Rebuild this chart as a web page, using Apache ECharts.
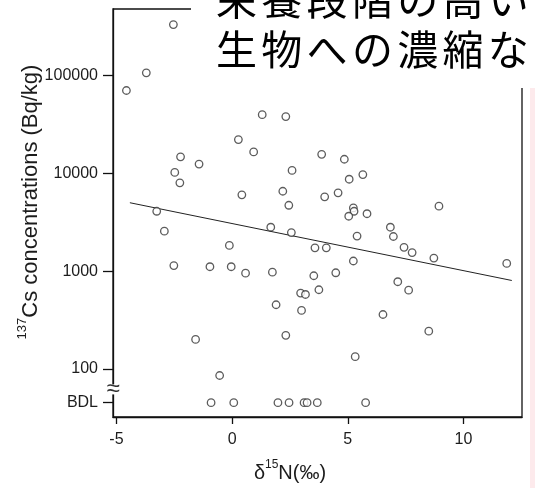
<!DOCTYPE html>
<html>
<head>
<meta charset="utf-8">
<script src="https://cdn.jsdelivr.net/npm/echarts@6/dist/echarts.min.js"></script>
<style>
  html, body { margin: 0; padding: 0; background: #fff; }
  #chart { width: 535px; height: 488px; }
</style>
</head>
<body>
<div id="chart"></div>
<script>
// δ15N (‰) of each sample with a detectable 137Cs concentration
const D15N = [
  -2.54, -3.71, -4.57, 0.27, -2.23, -1.43, -2.48, -2.26, 0.42, 0.93,
  -3.26, -2.93, 1.30, 2.32, 3.87, 4.85, 2.59, 5.65, 5.06, 2.19,
  4.00, 4.58, 2.45, 5.24, 5.27, 5.04, 5.83, 6.84, 6.97, 7.43,
  7.78, 8.94, 8.72, 11.87, 7.16, 7.63, 6.52, 8.50, 5.40, 1.67,
  2.56, 3.58, 4.07, 5.24, 1.74, 3.53, 4.48, 3.75, 2.96, 3.17,
  1.90, 3.00, 2.32, 5.32, -0.12, -2.52, -0.96, -0.04, 0.58, -1.58,
  -0.54
];
// 137Cs concentration (Bq/kg) for the same samples
const CS137 = [
  330000, 106000, 70000, 22100, 14700, 12400, 10200, 7980, 6020, 16500,
  4090, 2560, 39700, 37900, 15600, 13900, 10700, 9700, 8690, 6550,
  5740, 6310, 4710, 4430, 4090, 3640, 3860, 2810, 2260, 1750,
  1550, 4610, 1360, 1200, 780, 640, 361, 244, 2280, 2810,
  2480, 1730, 1730, 1270, 977, 898, 963, 646, 597, 578,
  454, 397, 221, 134, 1830, 1140, 1110, 1110, 954, 201,
  86
];
// δ15N of samples below the detection limit
const BDL_D15N = [-0.91, 0.07, 1.98, 2.46, 3.11, 3.24, 3.68, 5.77];

// regression line end points (δ15N, Bq/kg)
const TREND_D15N = [-4.42, 12.09];
const TREND_CS137 = [5000, 803];

// axis ticks
const X_TICKS = [-5, 0, 5, 10];
const BDL_LEVEL = 45.4;          // where the BDL row sits on the y axis
const BREAK_LEVEL = 62;          // where the axis-break mark sits
const Y_TICKS = [BDL_LEVEL, 100, 1000, 10000, 100000];
const Y_TICK_LABELS = ['BDL', '100', '1000', '10000', '100000'];

const TITLE_LINES = ['栄養段階の高い', '生物への濃縮な'];

const FONT = '"Liberation Sans", Arial, Helvetica, sans-serif';
const CJK_FONT = '"Noto Sans CJK JP", sans-serif';
const INK = '#1c1c1c';
const X_MIN = -5.15, X_MAX = 12.53;

const chart = echarts.init(document.getElementById('chart'), null, { renderer: 'canvas' });

function yLabel(v) {
  let best = 0, bestD = Infinity;
  Y_TICKS.forEach((t, i) => {
    const d = Math.abs(Math.log10(v) - Math.log10(t));
    if (d < bestD) { bestD = d; best = i; }
  });
  return Y_TICK_LABELS[best];
}

function nameRich(size) {
  return {
    a: { fontFamily: FONT, fontSize: size, color: INK, lineHeight: size + 4, verticalAlign: 'bottom' },
    s: { fontFamily: FONT, fontSize: Math.round(size * 0.6), color: INK, lineHeight: size + 4, verticalAlign: 'top' }
  };
}

const option = {
  animation: false,
  backgroundColor: '#fff',
  grid: {
    left: 113, right: 13, top: 9, bottom: 70,
    show: true, borderColor: '#111', borderWidth: 1.3, backgroundColor: 'transparent'
  },
  xAxis: {
    type: 'value',
    min: X_MIN, max: X_MAX,
    axisLine: { show: true, onZero: false, lineStyle: { color: '#111', width: 1.3 } },
    axisTick: { show: true, length: 7, customValues: X_TICKS, lineStyle: { color: '#111', width: 1.3 } },
    axisLabel: { customValues: X_TICKS, margin: 15, color: INK, fontFamily: FONT, fontSize: 16 },
    splitLine: { show: false },
    name: '{a|δ}{s|15}{a|N(‰)}',
    nameLocation: 'middle',
    nameGap: 42,
    nameMoveOverlap: false,
    nameTextStyle: { padding: [0, 55, 0, 0], rich: nameRich(20) }
  },
  yAxis: {
    type: 'log',
    logBase: 10,
    min: 32.4, max: 476000,
    axisLine: { show: true, onZero: false, lineStyle: { color: '#111', width: 1.3 } },
    axisTick: { show: true, length: 10, customValues: Y_TICKS, lineStyle: { color: '#111', width: 1.3 } },
    axisLabel: { customValues: Y_TICKS, margin: 15, color: INK, fontFamily: FONT, fontSize: 16, formatter: yLabel },
    splitLine: { show: false },
    minorTick: { show: false },
    name: '{s|137}{a|Cs concentrations (Bq/kg)}',
    nameLocation: 'middle',
    nameRotate: 90,
    nameGap: 71,
    nameMoveOverlap: false,
    nameTextStyle: { padding: [0, 0, 0, 22], rich: nameRich(22) }
  },
  series: [
    {
      type: 'scatter',
      data: D15N.map((x, i) => [x, CS137[i]]),
      symbol: 'circle',
      symbolSize: 7.5,
      itemStyle: { color: '#fff', borderColor: '#333', borderWidth: 1.3 },
      z: 3
    },
    {
      type: 'scatter',
      data: BDL_D15N.map(x => [x, BDL_LEVEL]),
      symbol: 'circle',
      symbolSize: 7.5,
      itemStyle: { color: '#fff', borderColor: '#333', borderWidth: 1.3 },
      z: 3
    },
    {
      type: 'line',
      data: TREND_D15N.map((x, i) => [x, TREND_CS137[i]]),
      showSymbol: false,
      lineStyle: { color: '#222', width: 1 },
      z: 2
    }
  ]
};

chart.setOption(option);

// axis-break mark on the y axis
const breakPt = chart.convertToPixel({ gridIndex: 0 }, [X_MIN, BREAK_LEVEL]);
const graphics = [
  {
    type: 'rect', z: 100,
    shape: { x: breakPt[0] - 8, y: breakPt[1] - 5, width: 16, height: 10 },
    style: { fill: '#fff' }
  },
  {
    type: 'text', z: 101,
    x: breakPt[0], y: breakPt[1],
    style: { text: '≈', fontFamily: FONT, fontSize: 24, fill: '#333', align: 'center', verticalAlign: 'middle' }
  },
  // white header panel behind the caption
  {
    type: 'rect', z: 100,
    shape: { x: 191, y: 0, width: 344, height: 88 },
    style: { fill: '#fff' }
  },
  // faint strip along the right edge
  {
    type: 'rect', z: 100,
    shape: { x: 530, y: 88, width: 5, height: 400 },
    style: { fill: '#fdeaec' }
  }
];
// caption, one glyph at a time on a fixed pitch
TITLE_LINES.forEach((line, li) => {
  Array.from(line).forEach((ch, ci) => {
    graphics.push({
      type: 'text', z: 101,
      x: 216 + ci * 45.3, y: -1 + li * 50,
      style: { text: ch, fontFamily: CJK_FONT, fontSize: 41, fill: '#000', align: 'left', verticalAlign: 'middle' }
    });
  });
});
chart.setOption({ graphic: graphics });
</script>
</body>
</html>
